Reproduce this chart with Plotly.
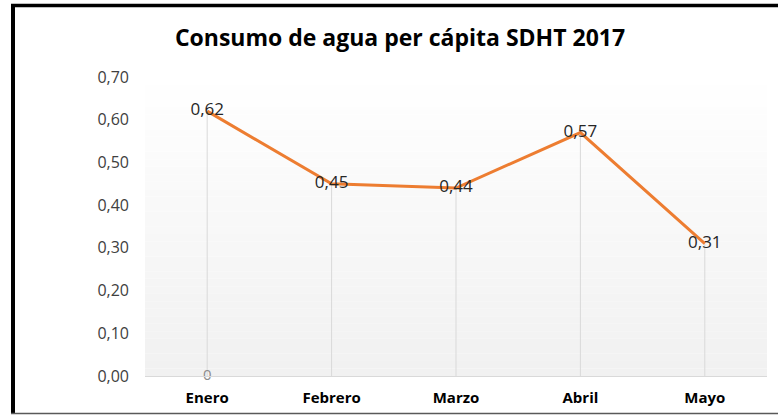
import plotly.graph_objects as go

months = ["Enero", "Febrero", "Marzo", "Abril", "Mayo"]
consumo = [0.62, 0.45, 0.44, 0.57, 0.31]
extra_months = ["Enero"]
extra_vals = [0]
y_ticks = [0, 0.1, 0.2, 0.3, 0.4, 0.5, 0.6, 0.7]

W, H = 778, 419
L, R, T, B = 145, 11, 77, 43
pw, ph = W - L - R, H - T - B

def px_x(p):
    return (p - L) / pw

def px_y(p):
    return (H - B - p) / ph

fig = go.Figure()

fig.add_trace(go.Scatter(
    x=months, y=consumo, mode="lines+text",
    line=dict(color="#ED7D31", width=3),
    text=[f"{v:.2f}".replace(".", ",") for v in consumo],
    textposition="middle center",
    textfont=dict(family="Open Sans", size=17, color="#262626"),
    error_y=dict(type="data", symmetric=False, array=[0]*len(consumo),
                 arrayminus=consumo, color="#d9d9d9", thickness=1, width=0),
    hoverinfo="skip", showlegend=False, cliponaxis=False,
))

fig.add_trace(go.Scatter(
    x=extra_months, y=extra_vals, mode="text",
    text=[str(v) for v in extra_vals],
    textposition="middle center",
    textfont=dict(family="Open Sans", size=15, color="#8c8c8c"),
    hoverinfo="skip", showlegend=False, cliponaxis=False,
))

shapes = []
n = 40
for i in range(n):
    f = i / n
    g = int(round(255 - 14 * (1 - f)))
    shapes.append(dict(type="rect", xref="x domain", yref="y domain",
                       x0=0, x1=1, y0=i / n, y1=(i + 1) / n,
                       fillcolor=f"rgb({g},{g},{g})", line=dict(width=0),
                       layer="below"))
# frame of the chart area
shapes.append(dict(type="line", xref="paper", yref="paper",
                   x0=px_x(13), x1=px_x(13), y0=px_y(4), y1=px_y(414),
                   line=dict(color="black", width=4)))
shapes.append(dict(type="line", xref="paper", yref="paper",
                   x0=px_x(11), x1=px_x(780), y0=px_y(5.5), y1=px_y(5.5),
                   line=dict(color="black", width=3.5)))
shapes.append(dict(type="line", xref="paper", yref="paper",
                   x0=px_x(11), x1=px_x(780), y0=px_y(413.5), y1=px_y(413.5),
                   line=dict(color="#595959", width=1.5)))

fig.update_layout(
    width=W, height=H,
    margin=dict(l=L, r=R, t=T, b=B),
    paper_bgcolor="white", plot_bgcolor="white",
    separators=",.",
    title=dict(text="<b>Consumo de agua per cápita SDHT 2017</b>",
               x=400 / W, xref="container", xanchor="center",
               y=1 - 38 / H, yanchor="middle", yref="container",
               font=dict(family="Open Sans", size=23, color="black")),
    xaxis=dict(type="category", range=[-0.5, 4.5], showgrid=False,
               showline=True, linecolor="#d9d9d9", linewidth=1,
               ticks="", tickfont=dict(family="Open Sans", size=15, color="black",
                                       weight="bold"),
               ticklabelstandoff=8, zeroline=False),
    yaxis=dict(range=[0, 0.7], tickvals=y_ticks, tickformat=".2f",
               showgrid=False, showline=False, zeroline=False, ticks="",
               tickfont=dict(family="Open Sans", size=16, color="#404040"),
               ticklabelstandoff=15),
    shapes=shapes,
)

fig.write_html("out.html", config={"displayModeBar": False},
               post_script="document.body.style.margin='0';document.body.style.overflow='hidden';")
